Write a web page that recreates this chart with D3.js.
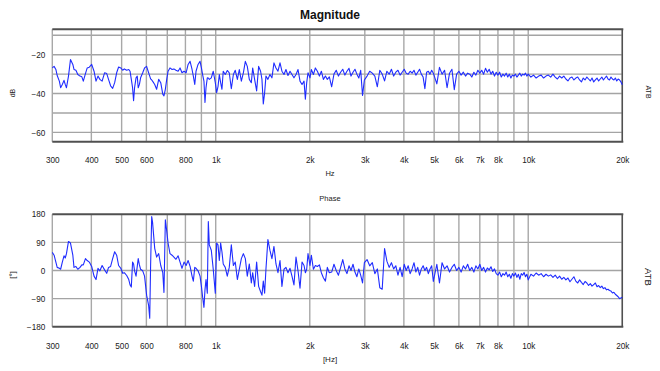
<!DOCTYPE html>
<html>
<head>
<meta charset="utf-8">
<script src="https://cdn.jsdelivr.net/npm/d3@7"></script>
<style>
  html, body { margin: 0; padding: 0; background: #fff; }
  svg { display: block; font-family: "Liberation Sans", Arial, sans-serif; }
</style>
</head>
<body>
<div id="chart"></div>
<script>
// measured frequencies (Hz), shared by both panels
const freqs = [
  300, 304, 308, 311, 316, 319, 323, 327, 330, 333,
  338, 343, 349, 352, 357, 362, 368, 373, 377, 383,
  388, 394, 401, 408, 414, 420, 426, 433, 441, 448,
  454, 461, 468, 475, 482, 489, 497, 504, 510, 519,
  527, 532, 537, 542, 546, 550, 556, 561, 565, 570,
  575, 584, 592, 601, 610, 615, 619, 624, 628, 638,
  647, 657, 667, 677, 683, 690, 697, 704, 714, 725,
  735, 746, 758, 769, 780, 792, 804, 816, 828, 840,
  848, 857, 865, 878, 891, 900, 908, 917, 924, 931,
  940, 947, 954, 968, 982, 997, 1007, 1017, 1027, 1037,
  1047, 1057, 1073, 1089, 1105, 1122, 1139, 1155, 1173, 1190,
  1208, 1226, 1244, 1262, 1281, 1300, 1313, 1332, 1352, 1372,
  1392, 1406, 1420, 1434, 1448, 1469, 1491, 1513, 1536, 1559,
  1582, 1606, 1629, 1654, 1678, 1703, 1729, 1754, 1780, 1807,
  1834, 1861, 1889, 1917, 1936, 1955, 1974, 2003, 2023, 2054,
  2084, 2115, 2147, 2178, 2211, 2244, 2276, 2310,
  2350, 2390, 2430, 2470, 2510, 2550, 2590, 2630, 2670, 2710,
  2750, 2790, 2830, 2870, 2910, 2950, 2990,
  3050, 3110, 3170, 3230, 3290, 3350, 3410, 3470, 3530, 3590,
  3650, 3710, 3770, 3830, 3890, 3950, 4010, 4070, 4130, 4190,
  4250, 4310, 4370, 4430, 4490, 4550, 4610, 4670, 4730, 4790,
  4850, 4910, 4970,
  5100, 5200, 5300, 5400, 5500, 5600, 5700, 5800, 5900, 6000,
  6100, 6200, 6300, 6400, 6500, 6600, 6700, 6800, 6900, 7000,
  7100, 7200, 7300, 7400, 7500, 7600, 7700, 7800, 7900, 8000,
  8100, 8200, 8300, 8400, 8500, 8600, 8700, 8800, 8900, 9000,
  9100, 9200, 9300, 9400, 9500, 9600, 9700, 9800, 9900, 10000,
  10200, 10400, 10600, 10800, 11000, 11200, 11400, 11600, 11800, 12000,
  12200, 12400, 12600, 12800, 13000, 13200, 13400, 13600, 13800, 14000,
  14200, 14400, 14600, 14800, 15000, 15200, 15400, 15600, 15800, 16000,
  16200, 16400, 16600, 16800, 17000, 17200, 17400, 17600, 17800, 18000,
  18200, 18400, 18600, 18800, 19000, 19200, 19400, 19600, 19800, 20000
];

// magnitude (dB)
const magnitudeDb = [
  -26.8, -26, -27.6, -30.7, -33.6, -37, -35.3, -33.2, -35.3, -37,
  -31, -22.5, -25, -27.6, -28, -30.2, -31, -31.4, -33.6, -29.7,
  -26.8, -26.4, -25, -28.5, -33.6, -31, -32.7, -33.6, -29.3, -29.7,
  -32.7, -36, -37.3, -34.4, -29.3, -26.3, -26.8, -28, -27.3, -28,
  -27.6, -28.5, -32.7, -37, -43.7, -37, -31.9, -31, -37, -35.3,
  -31.9, -29.3, -26.8, -26, -29.3, -31, -32.4, -33, -33.6, -35.3,
  -37.8, -32.7, -34.4, -40.3, -41.2, -37.8, -32.7, -28.5, -26.8, -27.6,
  -27.3, -28, -28.5, -26.8, -29.3, -28.5, -29.3, -25, -23.4, -27.6,
  -31, -35.3, -28.5, -25, -23.4, -26.8, -30.2, -33.6, -44.6, -37,
  -31.9, -32, -32.7, -31.9, -28.5, -34.4, -39.5, -36.4, -30.2, -34.4,
  -37.8, -28.5, -30.2, -28.1, -29.3, -37.5, -30.2, -28, -32.7, -27.6,
  -33.6, -29.3, -23.4, -26, -32.7, -34.4, -26.8, -32.7, -38.6, -26,
  -28.5, -32.7, -45.4, -39.5, -31, -32.7, -30.2, -31.9, -24.2, -26.8,
  -28.5, -24.2, -28.5, -30.2, -27.6, -30.7, -28.5, -30.2, -31.9, -30.2,
  -27.6, -33.6, -35.3, -33.6, -42.9, -34.4, -29.3, -31.9, -27.6, -30.2,
  -26.8, -28.5, -31, -28.5, -32.7, -31, -32.7, -31.4,
  -36.5, -30, -28, -31, -29, -27.5, -30.5, -28.5, -27, -31,
  -29, -27.5, -30, -32, -28, -41, -33,
  -31, -28.5, -29.5, -31, -36.5, -28, -30, -33.5, -28.5, -30,
  -27.5, -31, -29, -28, -30.5, -29, -27.5, -29.5, -30, -28.5,
  -29.5, -28, -30.5, -29, -27.5, -30, -31.5, -37.5, -29, -28.5,
  -30, -28, -29.5,
  -35, -26.5, -30, -28, -37, -29.5, -27.5, -38, -30, -28.5,
  -30.5, -29, -31, -29.5, -30, -31.5, -29, -30.5, -28, -29.5,
  -28, -30, -27, -29, -27.5, -30, -28.5, -31, -29, -30.5,
  -29, -31.5, -30, -31, -29.5, -31.5, -30, -32, -30.5, -31,
  -30, -31.5, -30.5, -29.5, -31, -30, -30.5, -29.5, -31, -30,
  -31.5, -30.5, -32, -31, -30.5, -32, -31, -30.5, -31.5, -30,
  -31.5, -32.5, -31, -32, -31, -32.5, -33.5, -32, -31.5, -33,
  -32, -31.5, -33, -34, -32, -33, -31.5, -32.5, -33.5, -32,
  -34, -33, -32, -33.5, -32.5, -31.5, -33, -32, -31, -32.5,
  -33, -31.5, -32.5, -33, -32, -33.5, -32.5, -33, -34, -35.5
];

// phase (degrees)
const phaseDeg = [
  58, 49, 27, 10, 7, 4, 27, 47, 40, 54,
  93, 88, 49, 10, 13, 4, 10, 18, 18, 38,
  32, 27, 13, -18, -29, 7, -1, 16, 2, -9,
  10, 13, 38, 60, 49, 16, 7, -9, -7, -16,
  -29, -46, -53, 27, 21, -1, -18, 13, 38, 18,
  4, -1, -18, -79, -112, -153, 16, 173, 154, 71,
  43, 54, 16, -7, -70, 162, 127, 88, 54, 49,
  43, 36, 47, 27, 7, 27, 16, 32, 13, -18,
  -34, 10, 7, -1, -18, -51, -84, -118, -62, -29,
  -73, 157, 82, 65, 4, -73, 88, 82, 32, 88,
  60, 21, 10, -18, 10, 82, 16, 27, -29, 4,
  38, 54, 38, -18, 21, -40, -7, -51, 27, -51,
  -68, -79, -34, -73, 4, 99, 65, 38, 77, 21,
  -7, 32, -51, 4, 10, -7, 7, -18, -46, 43,
  -1, -57, 27, 16, -7, 4, 54, 16, 49, 4,
  16, 13, 18, -7, -23, -34, 10, -7,
  -5, 20, 0, -15, 10, 35, 5, -10, 15, 0,
  20, -5, -20, 5, -15, -40, 25,
  35, 15, 25, -10, 5, -55, -60, 70, 30, 10,
  25, 5, 15, -15, 10, -20, 20, 0, 15, -10,
  5, 25, -5, 10, -15, 5, 15, 0, 10, -10,
  5, 15, -35,
  20, -40, 25, 5, 15, -5, 10, 20, 0, 10,
  -5, 15, 5, 20, 0, 10, -5, 15, 5, 20,
  0, 10, -5, 8, 2, 12, -3, 5, -10, -15,
  -5, -20, -10, -15, -5, -20, -12, -25, -10, -18,
  -8, -22, -12, -28, -10, -15, -6, -20, -12, -30,
  -12, -18, -8, -15, -10, -20, -12, -18, -14, -22,
  -15, -25, -18, -28, -22, -30, -24, -36, -28, -20,
  -34, -40, -30, -38, -45, -35, -40, -48, -42, -50,
  -45, -40, -52, -48, -55, -50, -58, -55, -62, -60,
  -64, -66, -72, -70, -76, -80, -84, -90, -88, -86
];

const gridFreqs = [300, 400, 500, 600, 700, 800, 900, 1000, 2000, 3000, 4000,
                   5000, 6000, 7000, 8000, 9000, 10000, 20000];
const freqLabels = [300, 400, 500, 600, 800, 1000, 2000, 3000, 4000, 5000,
                    6000, 7000, 8000, 10000, 20000];
const magGrid = [-60, -50, -40, -30, -20, -10];
const magLabels = [-60, -40, -20];
const phaseTicks = [-180, -90, 0, 90, 180];

const W = 660, H = 371;
const left = 52.3, right = 622.3;
const FONT = '"Liberation Sans", Arial, sans-serif';
const TXT = '#222';
const n = Math.min(freqs.length, magnitudeDb.length, phaseDeg.length);
if (n !== freqs.length || n !== magnitudeDb.length || n !== phaseDeg.length)
  console.log('length mismatch', freqs.length, magnitudeDb.length, phaseDeg.length);

const points = d3.range(n).map(i => ({f: freqs[i], m: magnitudeDb[i], p: phaseDeg[i]}));

const svg = d3.select('#chart').append('svg')
  .attr('width', W).attr('height', H);
svg.append('rect').attr('width', W).attr('height', H).attr('fill', '#fff');

const x = d3.scaleLog().domain([300, 20000]).range([left, right]);
const fmtHz = f => f >= 1000 ? (f / 1000) + 'k' : String(f);

function panel(cfg) {
  const g = svg.append('g');
  const y = cfg.y;
  const [y0, y1] = y.range(); // bottom, top

  // horizontal grid
  g.selectAll('line.hgrid').data(cfg.hGrid).enter().append('line')
    .attr('x1', left).attr('x2', right)
    .attr('y1', d => y(d)).attr('y2', d => y(d))
    .attr('stroke', '#a4a4a4').attr('stroke-width', 1.4);

  // vertical grid
  g.selectAll('line.vgrid').data(gridFreqs).enter().append('line')
    .attr('x1', d => x(d)).attr('x2', d => x(d))
    .attr('y1', y1).attr('y2', y0)
    .attr('stroke', '#a8a8a8').attr('stroke-width', 1.4);

  // frame
  g.append('line').attr('x1', left).attr('x2', right + 1).attr('y1', y1).attr('y2', y1)
    .attr('stroke', '#505050').attr('stroke-width', 2);
  g.append('line').attr('x1', left).attr('x2', right + 1).attr('y1', y0).attr('y2', y0)
    .attr('stroke', '#505050').attr('stroke-width', 2);
  g.append('line').attr('x1', right).attr('x2', right).attr('y1', y1).attr('y2', y0)
    .attr('stroke', '#505050').attr('stroke-width', 1.5);

  // curve
  const line = d3.line().x(d => x(d.f)).y(d => y(d[cfg.key]));
  g.append('path').datum(points)
    .attr('d', line)
    .attr('fill', 'none')
    .attr('stroke', '#1f2cff')
    .attr('stroke-width', 1.1)
    .attr('stroke-linejoin', 'round');

  // x axis labels
  const xa = g.append('g').attr('transform', `translate(0,${y0})`)
    .call(d3.axisBottom(x).tickValues(freqLabels).tickFormat(fmtHz)
      .tickSize(0).tickPadding(cfg.xPad));
  xa.select('.domain').remove();
  xa.selectAll('text').attr('fill', TXT).attr('font-size', 8.2).attr('font-family', FONT);

  // y axis labels
  const ya = g.append('g').attr('transform', `translate(${left},0)`)
    .call(d3.axisLeft(y).tickValues(cfg.yLabels).tickSize(0).tickPadding(7));
  ya.select('.domain').remove();
  ya.selectAll('text').attr('fill', TXT).attr('font-size', 8.2).attr('font-family', FONT);
}

panel({
  key: 'm',
  y: d3.scaleLinear().domain([-64.8, -6.9]).range([141.7, 29.3]),
  hGrid: magGrid, yLabels: magLabels, xPad: 15.5
});

panel({
  key: 'p',
  y: d3.scaleLinear().domain([-180, 180]).range([326.7, 214.3]),
  hGrid: [-90, 0, 90], yLabels: phaseTicks, xPad: 16.2
});

// titles and axis names
svg.append('text').attr('x', 330).attr('y', 19).attr('text-anchor', 'middle')
  .attr('font-size', 12).attr('font-weight', 'bold').attr('fill', '#111')
  .text('Magnitude');
svg.append('text').attr('x', 330).attr('y', 200.5).attr('text-anchor', 'middle')
  .attr('font-size', 7.5).attr('fill', TXT).text('Phase');
svg.append('text').attr('x', 330).attr('y', 176).attr('text-anchor', 'middle')
  .attr('font-size', 7.5).attr('fill', TXT).text('Hz');
svg.append('text').attr('x', 330).attr('y', 362).attr('text-anchor', 'middle')
  .attr('font-size', 8).attr('fill', TXT).text('[Hz]');

svg.append('text').attr('transform', 'translate(14.5,93) rotate(-90)')
  .attr('text-anchor', 'middle').attr('font-size', 7).attr('fill', TXT).text('dB');
svg.append('text').attr('transform', 'translate(15,275) rotate(-90)')
  .attr('text-anchor', 'middle').attr('font-size', 8).attr('fill', TXT).text('[°]');

svg.append('text').attr('transform', 'translate(645.5,92) rotate(90)')
  .attr('text-anchor', 'middle').attr('font-size', 7).attr('fill', TXT).text('ATB');
svg.append('text').attr('transform', 'translate(644.5,277) rotate(90)')
  .attr('text-anchor', 'middle').attr('font-size', 9.5).attr('fill', TXT).text('ATB');
</script>
</body>
</html>
